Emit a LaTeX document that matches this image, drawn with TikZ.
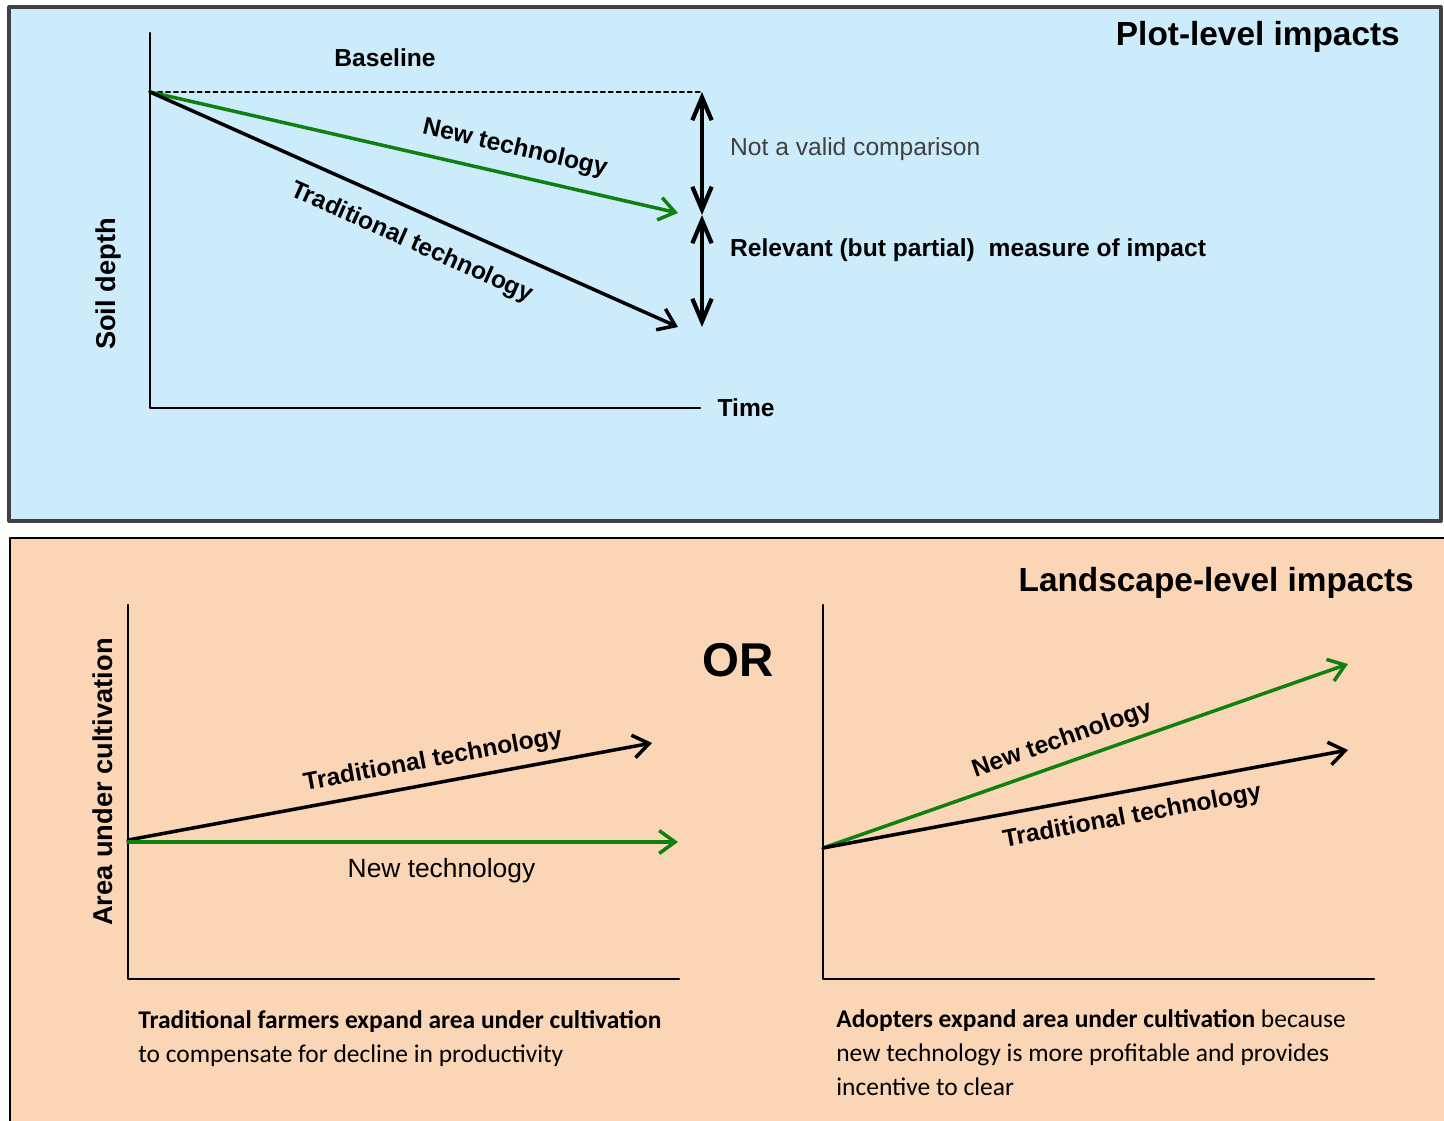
\documentclass[tikz,border=0pt]{standalone}
\usepackage{fontspec}
\setmainfont{Liberation Sans}
\newfontfamily\calfont{Carlito}
\usetikzlibrary{arrows.meta}
\definecolor{plotblue}{RGB}{204,235,251}
\definecolor{landpeach}{RGB}{251,214,182}
\definecolor{techgreen}{RGB}{16,128,16}
\begin{document}
\begin{tikzpicture}[x=0.02cm, y=-0.02cm, line join=round, line cap=round,
		font=\bfseries\fontsize{14}{16}\selectfont,
		axis/.style={line width=1.4pt},
		trend/.style={line width=2pt, -{Straight Barb[length=9pt, width=13pt]}},
		gap/.style={line width=2.4pt, {Straight Barb[length=13pt, width=11pt]}-{Straight Barb[length=13pt, width=11pt]}},
		title/.style={font=\bfseries\fontsize{19}{22}\selectfont, anchor=east},
		axlabel/.style={font=\bfseries\fontsize{15.5}{18}\selectfont, rotate=90},
		caption/.style={font=\calfont\fontsize{14.5}{19.5}\selectfont, align=left, anchor=north west, inner sep=0pt}]
	\useasboundingbox (0,0) rectangle (1444,1121);
	% panels
	\fill[landpeach] (10,538) rectangle (1444,1121);
	\draw[line width=0.6pt] (1444,538)--(10,538)--(10,1121);
	\filldraw[fill=plotblue, draw=black!75, line width=1.8pt] (9,7) rectangle (1441,521);
	% plot-level impacts
	\def\xa{150} \def\xb{700} \def\ya{33} \def\yb{408}
	\coordinate (top0) at (\xa,92);
	\coordinate (topN) at (678,213);
	\coordinate (topT) at (678,327);
	\coordinate (gapA) at (702,92);
	\coordinate (gapB) at (702,215);
	\coordinate (gapC) at (702,327);
	\draw[axis] (\xa,\ya)--(\xa,\yb)--(\xb,\yb) node[anchor=west, xshift=6pt] (time) {Time};
	\draw[dashed, dash pattern=on 2.5pt off 2pt, line width=0.8pt] (top0)--(gapA);
	\draw[trend, techgreen] (top0)--(topN) node[pos=0.68, sloped, above=4pt, black] (topNlbl) {New technology};
	\draw[trend] (top0)--(topT) node[pos=0.52, sloped, below=7pt] (topTlbl) {Traditional technology};
	\draw[gap] (gapA)--(gapB);
	\draw[gap] (gapB)--(gapC);
	\node (base) at (385,58) {Baseline};
	\node[anchor=west, font=\mdseries\fontsize{14}{16}\selectfont, text=black!75] (notvalid) at (724,149) {Not a valid comparison};
	\node[anchor=west] (relevant) at (724,250) {Relevant (but partial)\hspace{4pt} measure of impact};
	\node[axlabel] (soil) at (108,284) {Soil depth};
	\node[title] (plottitle) at (1406,37) {Plot-level impacts};
	% landscape-level impacts, left
	\def\xa{128} \def\xb{679} \def\ya{605} \def\yb{979}
	\coordinate (left0) at (\xa,840);
	\coordinate (leftT) at (652,743);
	\coordinate (leftN0) at (\xa,842);
	\coordinate (leftN) at (678,842);
	\draw[axis] (\xa,\ya)--(\xa,\yb)--(\xb,\yb);
	\draw[trend] (left0)--(leftT) node[pos=0.59, sloped, above=2pt] (leftTlbl) {Traditional technology};
	\draw[trend, techgreen] (leftN0)--(leftN) node[pos=0.57, below=5pt, black, font=\mdseries\fontsize{15}{17}\selectfont] (leftNlbl) {New technology};
	\node[axlabel] (area) at (103,782) {Area under cultivation};
	\node[caption] (leftcap) at (138,1010) {\textbf{Traditional farmers expand area under cultivation}\\to compensate for decline in productivity};
	\node[font=\bfseries\fontsize{27}{30}\selectfont] (or) at (738,660) {OR};
	% landscape-level impacts, right
	\def\xa{823} \def\xb{1374}
	\coordinate (right0) at (\xa,848);
	\coordinate (rightN) at (1348,664);
	\coordinate (rightT) at (1348,750);
	\draw[axis] (\xa,\ya)--(\xa,\yb)--(\xb,\yb);
	\draw[trend, techgreen] (right0)--(rightN) node[pos=0.47, sloped, above=2pt, black] (rightNlbl) {New technology};
	\draw[trend] (right0)--(rightT) node[pos=0.58, sloped, below=4pt] (rightTlbl) {Traditional technology};
	\node[caption] (rightcap) at (836,1009) {\textbf{Adopters expand area under cultivation} because\\new technology is more profitable and provides\\incentive to clear};
	\node[title] (landtitle) at (1420,583) {Landscape-level impacts};
\end{tikzpicture}
\end{document}
